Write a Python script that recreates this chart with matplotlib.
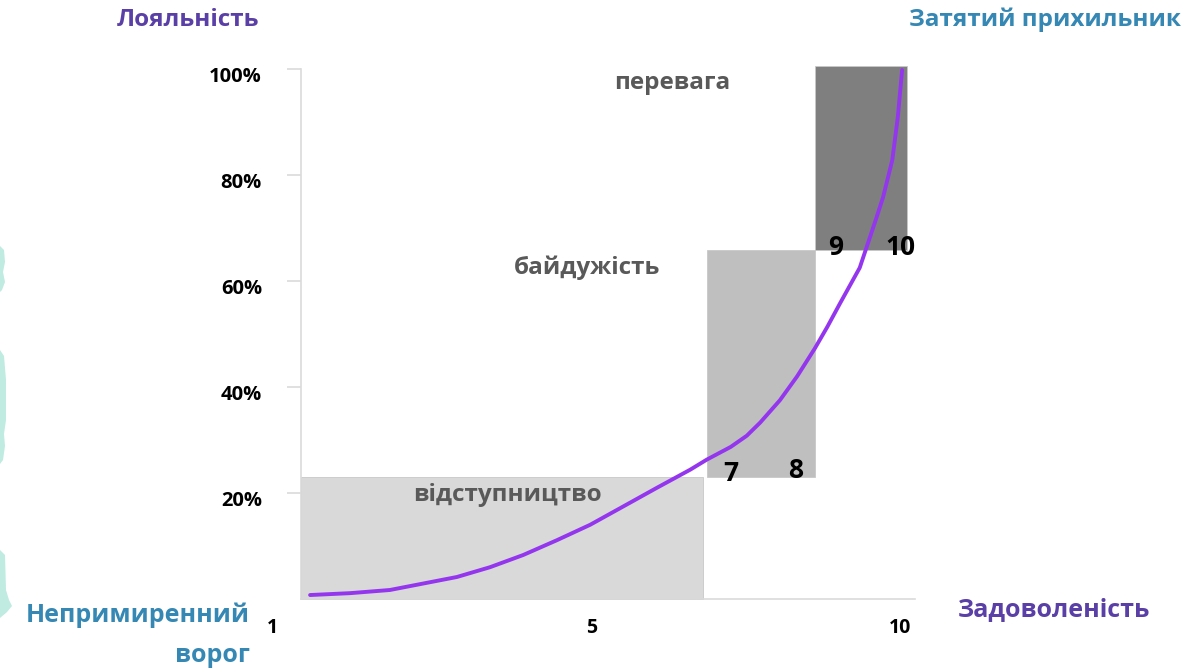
import numpy as np
import matplotlib
matplotlib.use("Agg")
import matplotlib.pyplot as plt
from matplotlib.patches import Polygon
import matplotlib.transforms as mtransforms

plt.rcParams['font.family'] = ['Open Sans', 'DejaVu Sans']
plt.rcParams['font.weight'] = 'bold'

# zones: satisfaction range (axis units) and loyalty range (%)
zone_names = ['відступництво', 'байдужість', 'перевага']
zone_start = [0.0, 6.61, 8.37]
zone_end = [6.55, 8.37, 9.87]
zone_low = [0.0, 23.0, 65.8]
zone_high = [23.0, 65.8, 100.5]
zone_colors = ['#d9d9d9', '#bfbfbf', '#7f7f7f']

# loyalty curve
curve_x = [0.15, 0.80, 1.45, 2.54, 3.08, 3.62, 4.17, 4.71, 5.24, 5.80, 6.34,
           6.61, 7.00, 7.26, 7.48, 7.80, 8.08, 8.37, 8.57, 8.78, 9.10, 9.36,
           9.48, 9.63, 9.72, 9.79]
curve_y = [0.75, 1.1, 1.7, 4.15, 6.0, 8.3, 11.1, 14.0, 17.4, 21.0, 24.4,
           26.3, 28.7, 30.8, 33.3, 37.5, 42.0, 47.3, 51.3, 55.8, 62.5, 71.5,
           75.8, 82.8, 90.9, 99.8]

x_tick_pos = [-0.47, 4.74, 9.76]
x_tick_labels = ['1', '5', '10']
y_ticks = [20, 40, 60, 80, 100]
y_tick_labels = ['20%', '40%', '60%', '80%', '100%']

score_labels = ['7', '8', '9', '10']
score_x = [7.0, 8.06, 8.71, 9.76]
score_y = [23.6, 24.2, 66.4, 66.4]

purple = '#5a3fa6'
blue = '#3587b4'

fig = plt.figure(figsize=(11.92, 6.70), dpi=100)
ax = fig.add_axes([272 / 1192, 1 - 599 / 670, 643 / 1192, 530 / 670])
ax.set_xlim(-0.47, 10.0)
ax.set_ylim(0, 100)

ax.bar(zone_start, np.subtract(zone_high, zone_low), width=np.subtract(zone_end, zone_start),
       bottom=zone_low, align='edge', color=zone_colors, edgecolor='#c8c8c8',
       linewidth=0.6, clip_on=False, zorder=1)

ax.plot(curve_x, curve_y, color='#9436ee', lw=2.8, solid_capstyle='round',
        solid_joinstyle='round', zorder=3, clip_on=False)

# zone captions
zone_text_x = [3.36, 4.66, 6.04]
zone_text_y = [19.6, 62.5, 97.4]
for name, tx, ty in zip(zone_names, zone_text_x, zone_text_y):
    ax.text(tx, ty, name, ha='center', va='center', fontsize=17.5,
            color='#595959', fontweight='bold', zorder=4)

for lab, sx, sy in zip(score_labels, score_x, score_y):
    ax.text(sx, sy, lab, ha='center', va='center', fontsize=19,
            color='black', fontweight='bold', zorder=4)

# axes styling
for s in ['top', 'right']:
    ax.spines[s].set_visible(False)
for s in ['left', 'bottom']:
    ax.spines[s].set_color('#dadada')
    ax.spines[s].set_linewidth(1.2)
ax.spines['left'].set_position(('data', 0))
ax.spines['bottom'].set_bounds(0, 10)
ax.spines['left'].set_bounds(0, 100)

ax.set_yticks(y_ticks)
ax.set_yticklabels(y_tick_labels)
ax.tick_params(axis='y', length=10, width=1.2, color='#dadada', pad=18,
               labelsize=14.5, labelcolor='black')
offset = mtransforms.ScaledTranslation(0, -5 / 100, fig.dpi_scale_trans)
for lab in ax.get_yticklabels():
    lab.set_transform(lab.get_transform() + offset)
    lab.set_fontweight('bold')

ax.set_xticks(x_tick_pos)
ax.set_xticklabels(x_tick_labels)
ax.tick_params(axis='x', length=0, pad=14, labelsize=14, labelcolor='black')
for lab in ax.get_xticklabels():
    lab.set_fontweight('bold')

# corner captions
fig.text(188 / 1192, 1 - 20 / 670, 'Лояльність', ha='center', va='center',
         fontsize=17.5, color=purple, fontweight='bold')
fig.text(1181 / 1192, 1 - 20 / 670, 'Затятий прихильник', ha='right', va='center',
         fontsize=17.5, color=blue, fontweight='bold')
fig.text(1054 / 1192, 1 - 610 / 670, 'Задоволеність', ha='center', va='center',
         fontsize=18, color=purple, fontweight='bold')
fig.text(250 / 1192, 1 - 615 / 670, 'Непримиренний', ha='right', va='center',
         fontsize=18, color=blue, fontweight='bold')
fig.text(250 / 1192, 1 - 655 / 670, 'ворог', ha='right', va='center',
         fontsize=18, color=blue, fontweight='bold')

# cut-off decoration at the left edge
deco = [
    [(0, 246), (4, 250), (5, 262), (3, 272), (5, 282), (2, 290), (0, 292)],
    [(0, 350), (4, 356), (6, 380), (6, 420), (4, 434), (5, 446), (3, 460), (0, 464)],
    [(0, 550), (5, 555), (6, 590), (9, 600), (12, 606), (7, 612), (0, 618)],
]
for pts in deco:
    poly = Polygon([(px / 1192, 1 - py / 670) for px, py in pts], closed=True,
                   transform=fig.transFigure, facecolor='#bfebe0', edgecolor='none')
    fig.patches.append(poly)

fig.savefig('out.png', dpi=100)
